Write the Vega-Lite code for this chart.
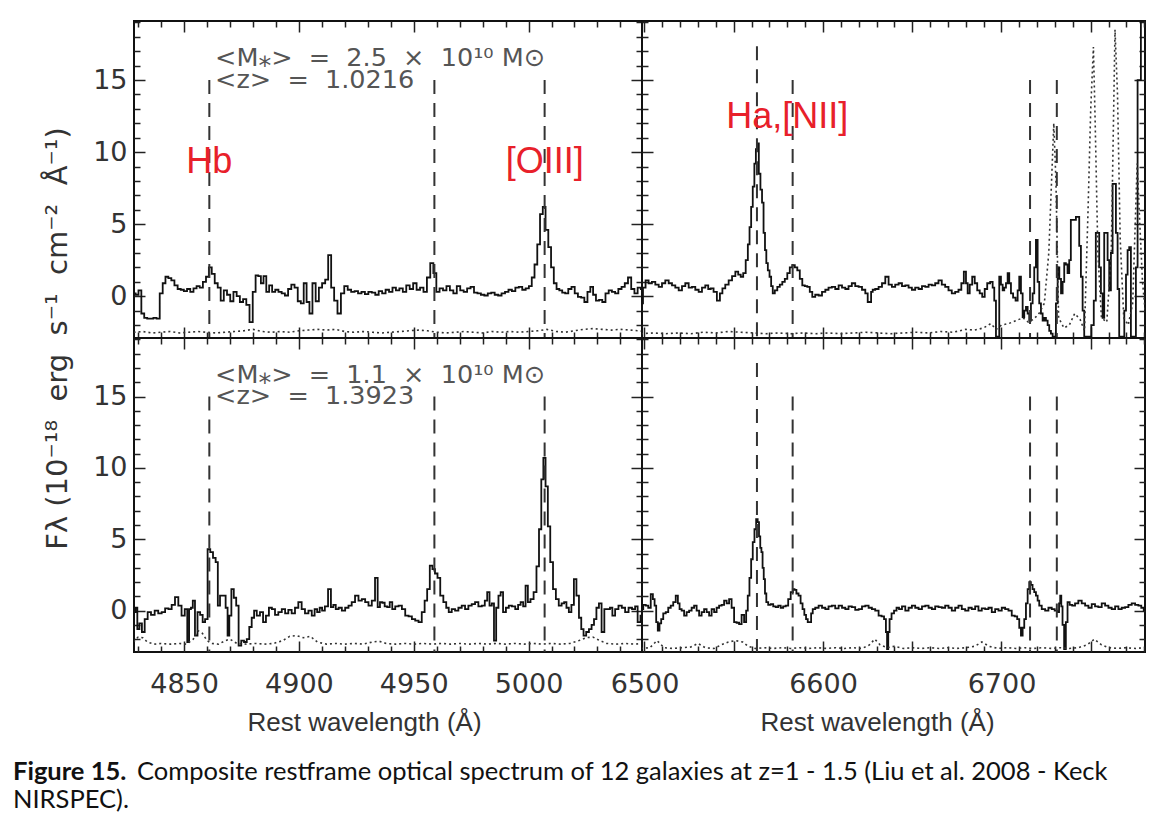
{
  "$schema": "https://vega.github.io/schema/vega-lite/v6.json",
  "background": "white",
  "padding": {"left": 13, "top": 7, "right": 20, "bottom": 5},
  "datasets": {
    "tl": [
      {"w":4828.3,"f":0.2},{"w":4829.5,"f":0.1},{"w":4830.8,"f":0.4},{"w":4832.0,"f":-1.2},{"w":4833.3,"f":-1.5},{"w":4834.6,"f":-1.55},{"w":4836.0,"f":-1.55},{"w":4837.3,"f":-1.5},{"w":4838.7,"f":-1.55},{"w":4840.1,"f":0.2},{"w":4841.3,"f":0.9},{"w":4842.5,"f":1.35},{"w":4843.8,"f":1.25},{"w":4845.1,"f":1.1},{"w":4846.5,"f":0.75},{"w":4847.9,"f":0.5},{"w":4849.2,"f":0.45},{"w":4850.6,"f":0.35},{"w":4852.0,"f":0.5},{"w":4853.4,"f":0.3},{"w":4854.8,"f":0.55},{"w":4856.1,"f":0.7},{"w":4857.5,"f":0.6},{"w":4858.9,"f":1.0},{"w":4860.2,"f":1.35},{"w":4861.4,"f":2.0},{"w":4862.7,"f":1.55},{"w":4864.0,"f":0.9},{"w":4865.3,"f":0.6},{"w":4866.6,"f":-0.3},{"w":4868.0,"f":0.4},{"w":4869.4,"f":0.1},{"w":4870.8,"f":-0.35},{"w":4872.2,"f":0.3},{"w":4873.6,"f":0.0},{"w":4875.0,"f":-0.4},{"w":4876.4,"f":-0.2},{"w":4877.8,"f":-0.6},{"w":4879.2,"f":-1.8},{"w":4880.6,"f":0.3},{"w":4881.7,"f":1.45},{"w":4882.9,"f":1.4},{"w":4884.0,"f":0.9},{"w":4885.2,"f":1.4},{"w":4886.4,"f":0.3},{"w":4887.7,"f":0.75},{"w":4889.0,"f":0.3},{"w":4890.4,"f":0.45},{"w":4891.8,"f":0.3},{"w":4893.2,"f":0.2},{"w":4894.6,"f":0.05},{"w":4896.0,"f":0.5},{"w":4897.4,"f":0.8},{"w":4898.8,"f":0.6},{"w":4900.2,"f":-0.35},{"w":4901.5,"f":-0.5},{"w":4902.7,"f":0.9},{"w":4904.0,"f":-0.4},{"w":4905.2,"f":-1.2},{"w":4906.6,"f":0.9},{"w":4908.0,"f":-0.35},{"w":4909.4,"f":0.6},{"w":4910.8,"f":0.9},{"w":4912.1,"f":1.15},{"w":4913.4,"f":2.85},{"w":4914.7,"f":0.6},{"w":4916.0,"f":-0.3},{"w":4917.6,"f":-1.2},{"w":4919.0,"f":0.2},{"w":4920.5,"f":0.7},{"w":4922.0,"f":0.45},{"w":4923.5,"f":0.3},{"w":4925.0,"f":0.35},{"w":4926.5,"f":0.2},{"w":4928.0,"f":0.3},{"w":4929.5,"f":0.15},{"w":4931.0,"f":0.3},{"w":4932.5,"f":0.25},{"w":4934.0,"f":0.1},{"w":4935.5,"f":0.35},{"w":4937.0,"f":0.2},{"w":4938.5,"f":0.45},{"w":4940.0,"f":0.3},{"w":4941.5,"f":0.6},{"w":4943.0,"f":0.4},{"w":4944.5,"f":0.55},{"w":4946.0,"f":0.3},{"w":4947.5,"f":0.75},{"w":4949.0,"f":0.5},{"w":4950.5,"f":0.9},{"w":4952.0,"f":0.45},{"w":4953.5,"f":0.6},{"w":4955.0,"f":0.3},{"w":4956.5,"f":1.3},{"w":4957.9,"f":2.3},{"w":4959.2,"f":1.6},{"w":4960.5,"f":0.3},{"w":4962.0,"f":0.55},{"w":4963.5,"f":0.4},{"w":4965.0,"f":0.7},{"w":4966.5,"f":0.4},{"w":4968.0,"f":0.2},{"w":4969.5,"f":0.7},{"w":4971.0,"f":0.4},{"w":4972.5,"f":0.3},{"w":4974.0,"f":0.55},{"w":4975.5,"f":0.65},{"w":4977.0,"f":0.25},{"w":4978.5,"f":0.2},{"w":4980.0,"f":0.1},{"w":4981.5,"f":0.05},{"w":4983.0,"f":0.2},{"w":4984.5,"f":0.25},{"w":4986.0,"f":0.1},{"w":4987.5,"f":0.05},{"w":4989.0,"f":0.2},{"w":4990.5,"f":0.3},{"w":4992.0,"f":0.45},{"w":4993.5,"f":0.35},{"w":4995.0,"f":0.6},{"w":4996.5,"f":0.65},{"w":4998.0,"f":0.45},{"w":4999.5,"f":0.55},{"w":5000.8,"f":0.7},{"w":5002.0,"f":1.3},{"w":5003.2,"f":2.2},{"w":5004.4,"f":3.6},{"w":5005.6,"f":5.7},{"w":5006.8,"f":6.2},{"w":5008.0,"f":4.6},{"w":5009.2,"f":3.4},{"w":5010.4,"f":2.0},{"w":5011.6,"f":0.9},{"w":5012.8,"f":0.5},{"w":5014.0,"f":0.4},{"w":5015.3,"f":0.25},{"w":5016.6,"f":0.2},{"w":5018.0,"f":0.5},{"w":5019.4,"f":0.65},{"w":5020.8,"f":0.2},{"w":5022.2,"f":-0.05},{"w":5023.6,"f":-0.1},{"w":5025.0,"f":-0.4},{"w":5026.3,"f":0.3},{"w":5027.5,"f":0.65},{"w":5028.7,"f":0.1},{"w":5030.0,"f":-0.3},{"w":5031.4,"f":-0.25},{"w":5032.8,"f":-0.4},{"w":5034.2,"f":0.2},{"w":5035.6,"f":0.4},{"w":5037.0,"f":0.3},{"w":5038.4,"f":0.2},{"w":5039.8,"f":0.5},{"w":5041.2,"f":0.65},{"w":5042.6,"f":0.9},{"w":5044.0,"f":1.3},{"w":5045.4,"f":0.5},{"w":5046.8,"f":0.2},{"w":5048.2,"f":0.6},{"w":5049.6,"f":0.5}
    ],
    "tl_err": [
      {"w":4828,"f":-2.5},{"w":4832,"f":-2.45},{"w":4836,"f":-2.55},{"w":4840,"f":-2.5},{"w":4844,"f":-2.45},{"w":4848,"f":-2.55},{"w":4852,"f":-2.5},{"w":4856,"f":-2.45},{"w":4860,"f":-2.5},{"w":4864,"f":-2.55},{"w":4868,"f":-2.5},{"w":4872,"f":-2.45},{"w":4876,"f":-2.4},{"w":4880,"f":-2.3},{"w":4884,"f":-2.45},{"w":4888,"f":-2.5},{"w":4892,"f":-2.45},{"w":4896,"f":-2.5},{"w":4900,"f":-2.4},{"w":4904,"f":-2.35},{"w":4908,"f":-2.3},{"w":4912,"f":-2.35},{"w":4916,"f":-2.3},{"w":4920,"f":-2.45},{"w":4924,"f":-2.5},{"w":4928,"f":-2.45},{"w":4932,"f":-2.5},{"w":4936,"f":-2.55},{"w":4940,"f":-2.5},{"w":4944,"f":-2.45},{"w":4948,"f":-2.4},{"w":4952,"f":-2.35},{"w":4956,"f":-2.4},{"w":4960,"f":-2.5},{"w":4964,"f":-2.55},{"w":4968,"f":-2.5},{"w":4972,"f":-2.45},{"w":4976,"f":-2.5},{"w":4980,"f":-2.55},{"w":4984,"f":-2.45},{"w":4988,"f":-2.5},{"w":4992,"f":-2.45},{"w":4996,"f":-2.5},{"w":5000,"f":-2.45},{"w":5004,"f":-2.4},{"w":5008,"f":-2.3},{"w":5012,"f":-2.45},{"w":5016,"f":-2.5},{"w":5020,"f":-2.4},{"w":5024,"f":-2.3},{"w":5028,"f":-2.25},{"w":5032,"f":-2.3},{"w":5036,"f":-2.35},{"w":5040,"f":-2.3},{"w":5044,"f":-2.35},{"w":5048,"f":-2.4},{"w":5050,"f":-2.45}
    ],
    "tr": [
      {"w":6498.5,"f":-0.5},{"w":6499.8,"f":0.6},{"w":6501.4,"f":1.1},{"w":6503.2,"f":0.9},{"w":6505.1,"f":1.0},{"w":6507.0,"f":0.8},{"w":6508.9,"f":0.65},{"w":6510.7,"f":0.9},{"w":6512.6,"f":1.1},{"w":6514.5,"f":0.9},{"w":6516.3,"f":0.75},{"w":6518.2,"f":0.6},{"w":6520.1,"f":0.4},{"w":6521.9,"f":0.7},{"w":6523.8,"f":0.9},{"w":6525.7,"f":0.6},{"w":6527.5,"f":0.65},{"w":6529.4,"f":0.45},{"w":6531.3,"f":0.3},{"w":6533.1,"f":0.6},{"w":6535.0,"f":0.75},{"w":6536.4,"f":0.5},{"w":6537.8,"f":0.55},{"w":6539.6,"f":0.3},{"w":6541.5,"f":-0.3},{"w":6543.0,"f":0.2},{"w":6544.3,"f":0.55},{"w":6546.2,"f":0.8},{"w":6548.1,"f":1.1},{"w":6550.0,"f":1.4},{"w":6551.8,"f":1.7},{"w":6553.2,"f":1.5},{"w":6554.6,"f":1.35},{"w":6556.0,"f":1.6},{"w":6557.4,"f":2.5},{"w":6558.4,"f":3.6},{"w":6559.3,"f":4.8},{"w":6560.2,"f":6.2},{"w":6561.1,"f":7.6},{"w":6562.0,"f":9.2},{"w":6562.8,"f":10.2},{"w":6563.6,"f":10.6},{"w":6564.5,"f":8.5},{"w":6565.4,"f":7.4},{"w":6566.3,"f":6.5},{"w":6567.1,"f":4.4},{"w":6567.9,"f":3.2},{"w":6568.6,"f":2.3},{"w":6569.6,"f":1.8},{"w":6570.5,"f":1.35},{"w":6571.4,"f":0.7},{"w":6572.3,"f":0.2},{"w":6573.7,"f":0.4},{"w":6575.1,"f":0.65},{"w":6576.5,"f":0.8},{"w":6577.9,"f":1.0},{"w":6579.3,"f":1.2},{"w":6580.7,"f":1.6},{"w":6582.1,"f":2.0},{"w":6583.5,"f":2.15},{"w":6584.9,"f":2.0},{"w":6586.3,"f":1.8},{"w":6587.7,"f":1.2},{"w":6589.1,"f":0.75},{"w":6590.5,"f":0.7},{"w":6591.9,"f":0.65},{"w":6593.3,"f":0.3},{"w":6594.7,"f":-0.05},{"w":6596.6,"f":0.1},{"w":6598.5,"f":0.05},{"w":6600.4,"f":0.3},{"w":6602.2,"f":0.45},{"w":6604.0,"f":0.6},{"w":6605.9,"f":0.65},{"w":6607.8,"f":0.5},{"w":6609.7,"f":0.75},{"w":6611.6,"f":0.6},{"w":6613.4,"f":0.5},{"w":6615.2,"f":0.7},{"w":6617.1,"f":0.9},{"w":6619.0,"f":0.7},{"w":6620.9,"f":0.65},{"w":6622.8,"f":0.45},{"w":6624.6,"f":0.2},{"w":6625.5,"f":-0.4},{"w":6626.5,"f":-0.4},{"w":6627.4,"f":0.3},{"w":6628.3,"f":0.45},{"w":6630.2,"f":0.5},{"w":6632.1,"f":0.65},{"w":6634.0,"f":0.9},{"w":6635.8,"f":1.35},{"w":6637.7,"f":0.8},{"w":6639.5,"f":0.65},{"w":6641.4,"f":0.8},{"w":6643.3,"f":0.9},{"w":6645.2,"f":0.7},{"w":6647.0,"f":0.75},{"w":6648.9,"f":0.6},{"w":6650.7,"f":0.45},{"w":6652.6,"f":0.6},{"w":6654.5,"f":0.5},{"w":6656.4,"f":0.7},{"w":6658.2,"f":0.65},{"w":6660.1,"f":0.8},{"w":6661.9,"f":0.75},{"w":6663.8,"f":0.9},{"w":6665.6,"f":1.1},{"w":6667.5,"f":0.8},{"w":6669.4,"f":0.65},{"w":6671.2,"f":0.4},{"w":6673.1,"f":0.2},{"w":6675.0,"f":0.3},{"w":6676.8,"f":0.45},{"w":6678.2,"f":0.9},{"w":6679.6,"f":1.7},{"w":6680.6,"f":0.9},{"w":6681.5,"f":0.2},{"w":6682.9,"f":0.8},{"w":6684.3,"f":1.35},{"w":6685.7,"f":0.9},{"w":6687.1,"f":0.4},{"w":6688.5,"f":0.2},{"w":6689.9,"f":-0.05},{"w":6691.3,"f":0.5},{"w":6692.7,"f":0.9},{"w":6694.6,"f":1.0},{"w":6695.5,"f":0.6},{"w":6696.4,"f":-0.3},{"w":6697.4,"f":-2.8},{"w":6698.3,"f":-2.8},{"w":6699.2,"f":1.35},{"w":6700.2,"f":0.8},{"w":6701.1,"f":0.4},{"w":6702.0,"f":0.6},{"w":6703.0,"f":0.9},{"w":6703.9,"f":1.6},{"w":6704.8,"f":0.9},{"w":6705.8,"f":0.2},{"w":6707.2,"f":-0.1},{"w":6708.6,"f":-0.3},{"w":6709.5,"f":0.4},{"w":6710.4,"f":1.35},{"w":6711.4,"f":0.2},{"w":6712.3,"f":-1.45},{"w":6713.2,"f":-1.0},{"w":6714.2,"f":-0.75},{"w":6715.1,"f":-1.2},{"w":6716.0,"f":-1.7},{"w":6717.0,"f":-0.5},{"w":6717.9,"f":0.2},{"w":6718.8,"f":2.0},{"w":6719.8,"f":3.9},{"w":6720.7,"f":1.0},{"w":6721.6,"f":-0.5},{"w":6722.6,"f":-1.2},{"w":6723.5,"f":-1.7},{"w":6724.4,"f":-1.5},{"w":6725.4,"f":-1.7},{"w":6726.3,"f":-2.0},{"w":6727.2,"f":-2.4},{"w":6728.2,"f":-2.6},{"w":6729.1,"f":-2.8},{"w":6730.0,"f":-2.8},{"w":6731.0,"f":-0.5},{"w":6731.9,"f":2.0},{"w":6732.9,"f":1.2},{"w":6733.8,"f":0.2},{"w":6734.7,"f":1.0},{"w":6735.6,"f":2.3},{"w":6736.5,"f":2.2},{"w":6737.5,"f":1.6},{"w":6738.4,"f":2.5},{"w":6739.3,"f":5.3},{"w":6740.3,"f":5.3},{"w":6741.2,"f":5.3},{"w":6742.2,"f":5.5},{"w":6743.1,"f":5.5},{"w":6744.0,"f":3.5},{"w":6745.0,"f":1.35},{"w":6745.9,"f":-1.0},{"w":6746.8,"f":-2.8},{"w":6748.2,"f":-2.8},{"w":6749.6,"f":-2.8},{"w":6751.0,"f":-2.0},{"w":6752.4,"f":-0.3},{"w":6753.3,"f":4.4},{"w":6754.3,"f":4.4},{"w":6755.2,"f":2.0},{"w":6756.2,"f":0.2},{"w":6757.1,"f":-1.5},{"w":6758.0,"f":4.4},{"w":6759.0,"f":4.4},{"w":6759.9,"f":2.5},{"w":6760.8,"f":0.4},{"w":6761.8,"f":3.0},{"w":6762.7,"f":7.8},{"w":6763.6,"f":7.8},{"w":6764.6,"f":4.4},{"w":6765.5,"f":0.5},{"w":6766.4,"f":-2.8},{"w":6767.4,"f":-2.8},{"w":6768.3,"f":-2.8},{"w":6769.3,"f":-1.0},{"w":6770.2,"f":1.5},{"w":6771.1,"f":3.2},{"w":6772.0,"f":3.4},{"w":6773.0,"f":-2.8},{"w":6773.9,"f":-2.8},{"w":6774.8,"f":-2.8},{"w":6775.8,"f":2.0},{"w":6776.7,"f":15.0},{"w":6777.6,"f":15.0},{"w":6778.6,"f":25},{"w":6779.5,"f":25},{"w":6780.5,"f":25}
    ],
    "tr_err": [
      {"w":6498,"f":-2.6},{"w":6505,"f":-2.55},{"w":6512,"f":-2.6},{"w":6519,"f":-2.55},{"w":6526,"f":-2.6},{"w":6533,"f":-2.5},{"w":6540,"f":-2.55},{"w":6547,"f":-2.45},{"w":6554,"f":-2.5},{"w":6561,"f":-2.55},{"w":6568,"f":-2.6},{"w":6575,"f":-2.55},{"w":6582,"f":-2.6},{"w":6589,"f":-2.55},{"w":6596,"f":-2.6},{"w":6603,"f":-2.55},{"w":6610,"f":-2.6},{"w":6617,"f":-2.55},{"w":6624,"f":-2.5},{"w":6631,"f":-2.55},{"w":6638,"f":-2.6},{"w":6645,"f":-2.55},{"w":6652,"f":-2.5},{"w":6659,"f":-2.55},{"w":6666,"f":-2.45},{"w":6673,"f":-2.5},{"w":6680,"f":-2.3},{"w":6685,"f":-2.35},{"w":6690,"f":-2.2},{"w":6694,"f":-1.9},{"w":6697,"f":-2.3},{"w":6700,"f":-2.0},{"w":6704,"f":-1.9},{"w":6708,"f":-1.7},{"w":6712,"f":-1.5},{"w":6715,"f":-1.8},{"w":6718,"f":-1.6},{"w":6721,"f":-1.2},{"w":6724,"f":-0.5},{"w":6726.5,"f":3.0},{"w":6729.3,"f":12.0},{"w":6730.5,"f":8.0},{"w":6732,"f":-1.5},{"w":6735,"f":-2.2},{"w":6738,"f":-2.0},{"w":6741,"f":-1.2},{"w":6744,"f":-1.6},{"w":6746.5,"f":-2.4},{"w":6748.5,"f":6.0},{"w":6750,"f":13.0},{"w":6751.5,"f":17.3},{"w":6752.5,"f":12.0},{"w":6754,"f":3.0},{"w":6756,"f":-1.5},{"w":6759,"f":-1.8},{"w":6761.5,"f":3.0},{"w":6763.6,"f":18.5},{"w":6765,"f":14.0},{"w":6766.5,"f":4.0},{"w":6768.5,"f":-1.5},{"w":6771,"f":-2.0},{"w":6773.5,"f":-0.5},{"w":6776,"f":9.2},{"w":6777.5,"f":5.0},{"w":6779,"f":1.0},{"w":6780.5,"f":-1.0}
    ],
    "bl": [
      {"w":4828.4,"f":-0.1},{"w":4829.3,"f":0.2},{"w":4830.0,"f":-1.3},{"w":4831.1,"f":-0.9},{"w":4832.2,"f":-1.5},{"w":4833.5,"f":-0.6},{"w":4834.8,"f":-0.1},{"w":4836.4,"f":-0.3},{"w":4838.0,"f":0.0},{"w":4839.5,"f":-0.2},{"w":4841.0,"f":-0.1},{"w":4842.5,"f":0.15},{"w":4843.9,"f":0.1},{"w":4845.3,"f":0.4},{"w":4846.8,"f":0.95},{"w":4848.2,"f":0.35},{"w":4849.6,"f":-0.35},{"w":4851.0,"f":0.1},{"w":4851.8,"f":-2.2},{"w":4852.6,"f":0.1},{"w":4853.4,"f":0.2},{"w":4854.2,"f":0.7},{"w":4855.3,"f":-1.75},{"w":4856.4,"f":-0.1},{"w":4857.6,"f":-0.3},{"w":4858.6,"f":-0.8},{"w":4859.7,"f":-0.6},{"w":4860.8,"f":4.3},{"w":4862.0,"f":4.1},{"w":4863.2,"f":3.7},{"w":4864.3,"f":3.4},{"w":4865.1,"f":0.35},{"w":4866.2,"f":1.05},{"w":4867.6,"f":1.05},{"w":4868.6,"f":0.2},{"w":4869.3,"f":-1.75},{"w":4870.1,"f":-0.35},{"w":4871.1,"f":1.5},{"w":4872.2,"f":0.9},{"w":4873.2,"f":0.35},{"w":4874.3,"f":-2.45},{"w":4875.5,"f":-2.1},{"w":4876.7,"f":-2.2},{"w":4877.9,"f":-2.0},{"w":4878.9,"f":-1.15},{"w":4880.0,"f":-0.5},{"w":4881.0,"f":0.0},{"w":4882.3,"f":-0.35},{"w":4883.8,"f":-0.1},{"w":4885.0,"f":-0.8},{"w":4886.3,"f":-0.35},{"w":4887.6,"f":0.2},{"w":4888.9,"f":0.1},{"w":4890.3,"f":-0.3},{"w":4891.8,"f":-0.1},{"w":4893.3,"f":0.1},{"w":4894.7,"f":-0.2},{"w":4896.1,"f":0.05},{"w":4897.6,"f":-0.2},{"w":4899.0,"f":0.2},{"w":4900.5,"f":0.6},{"w":4901.9,"f":0.1},{"w":4903.4,"f":-0.2},{"w":4904.9,"f":0.0},{"w":4906.3,"f":-0.35},{"w":4907.4,"f":0.1},{"w":4908.5,"f":-0.1},{"w":4909.6,"f":0.2},{"w":4910.6,"f":0.0},{"w":4912.0,"f":0.3},{"w":4913.4,"f":1.5},{"w":4914.5,"f":0.25},{"w":4915.5,"f":0.4},{"w":4916.6,"f":0.1},{"w":4918.0,"f":0.2},{"w":4919.4,"f":0.0},{"w":4920.9,"f":0.2},{"w":4922.3,"f":0.35},{"w":4923.7,"f":0.6},{"w":4925.2,"f":1.05},{"w":4926.7,"f":0.7},{"w":4928.1,"f":0.8},{"w":4929.6,"f":0.6},{"w":4931.0,"f":0.35},{"w":4932.5,"f":0.7},{"w":4933.8,"f":2.3},{"w":4934.8,"f":0.25},{"w":4935.8,"f":0.6},{"w":4936.8,"f":0.55},{"w":4937.9,"f":0.3},{"w":4939.0,"f":0.25},{"w":4940.1,"f":0.6},{"w":4941.2,"f":0.1},{"w":4942.7,"f":0.3},{"w":4944.1,"f":0.35},{"w":4945.6,"f":0.1},{"w":4947.0,"f":-0.35},{"w":4948.5,"f":-0.4},{"w":4949.9,"f":-0.6},{"w":4951.4,"f":-0.7},{"w":4952.8,"f":-0.8},{"w":4954.2,"f":-0.1},{"w":4955.3,"f":0.7},{"w":4956.4,"f":1.5},{"w":4957.6,"f":3.15},{"w":4958.7,"f":2.9},{"w":4959.8,"f":2.6},{"w":4960.9,"f":2.3},{"w":4962.2,"f":1.05},{"w":4963.6,"f":0.6},{"w":4964.7,"f":0.2},{"w":4965.8,"f":-0.1},{"w":4967.3,"f":0.1},{"w":4968.7,"f":0.0},{"w":4970.2,"f":0.2},{"w":4971.6,"f":0.35},{"w":4973.1,"f":0.1},{"w":4974.5,"f":0.35},{"w":4976.0,"f":0.45},{"w":4977.4,"f":0.6},{"w":4978.9,"f":0.3},{"w":4980.4,"f":0.35},{"w":4981.5,"f":0.7},{"w":4982.5,"f":1.3},{"w":4983.5,"f":0.35},{"w":4984.5,"f":0.5},{"w":4985.4,"f":-2.1},{"w":4986.4,"f":0.2},{"w":4987.4,"f":1.05},{"w":4988.3,"f":1.3},{"w":4989.5,"f":-0.1},{"w":4990.8,"f":0.2},{"w":4992.0,"f":0.35},{"w":4993.5,"f":0.3},{"w":4994.9,"f":0.1},{"w":4996.0,"f":0.4},{"w":4997.1,"f":0.6},{"w":4998.2,"f":0.3},{"w":4999.2,"f":1.75},{"w":5000.2,"f":0.6},{"w":5001.5,"f":0.8},{"w":5002.9,"f":1.3},{"w":5004.0,"f":3.1},{"w":5005.1,"f":5.7},{"w":5006.0,"f":9.2},{"w":5006.9,"f":10.7},{"w":5007.9,"f":8.7},{"w":5008.9,"f":5.9},{"w":5010.0,"f":3.4},{"w":5011.3,"f":1.5},{"w":5012.5,"f":0.8},{"w":5013.8,"f":0.35},{"w":5015.0,"f":0.5},{"w":5016.0,"f":0.6},{"w":5017.0,"f":0.2},{"w":5018.1,"f":-0.1},{"w":5019.2,"f":0.4},{"w":5020.3,"f":2.2},{"w":5021.4,"f":1.05},{"w":5022.5,"f":-0.5},{"w":5023.4,"f":-1.3},{"w":5024.5,"f":-1.75},{"w":5025.7,"f":-1.5},{"w":5026.9,"f":-1.3},{"w":5028.0,"f":-1.0},{"w":5029.0,"f":-0.6},{"w":5030.1,"f":0.2},{"w":5031.2,"f":0.5},{"w":5032.4,"f":-1.5},{"w":5033.6,"f":0.1},{"w":5034.9,"f":0.1},{"w":5036.0,"f":0.2},{"w":5037.0,"f":-0.35},{"w":5038.4,"f":0.1},{"w":5039.9,"f":0.35},{"w":5041.3,"f":0.2},{"w":5042.8,"f":-0.1},{"w":5044.3,"f":0.2},{"w":5045.8,"f":0.1},{"w":5047.0,"f":0.3},{"w":5048.0,"f":-0.8},{"w":5049.5,"f":-0.35}
    ],
    "bl_err": [
      {"w":4828,"f":-2.2},{"w":4830,"f":-1.85},{"w":4832,"f":-1.9},{"w":4834,"f":-2.2},{"w":4837,"f":-2.35},{"w":4840,"f":-2.3},{"w":4844,"f":-2.35},{"w":4848,"f":-2.3},{"w":4851,"f":-2.35},{"w":4854,"f":-2.0},{"w":4856,"f":-1.4},{"w":4858,"f":-1.6},{"w":4860,"f":-2.1},{"w":4862,"f":-2.3},{"w":4865,"f":-2.35},{"w":4868,"f":-2.1},{"w":4870,"f":-2.0},{"w":4873,"f":-2.3},{"w":4877,"f":-2.35},{"w":4881,"f":-2.3},{"w":4885,"f":-2.35},{"w":4889,"f":-2.3},{"w":4893,"f":-2.1},{"w":4896,"f":-1.8},{"w":4899,"f":-1.75},{"w":4902,"f":-1.9},{"w":4905,"f":-1.8},{"w":4908,"f":-2.2},{"w":4912,"f":-2.35},{"w":4916,"f":-2.3},{"w":4920,"f":-2.35},{"w":4924,"f":-2.3},{"w":4928,"f":-2.35},{"w":4932,"f":-2.2},{"w":4935,"f":-2.15},{"w":4938,"f":-2.3},{"w":4942,"f":-2.35},{"w":4946,"f":-2.3},{"w":4950,"f":-2.35},{"w":4954,"f":-2.3},{"w":4958,"f":-2.35},{"w":4962,"f":-2.3},{"w":4966,"f":-2.35},{"w":4970,"f":-2.3},{"w":4974,"f":-2.35},{"w":4978,"f":-2.3},{"w":4982,"f":-2.35},{"w":4986,"f":-2.3},{"w":4990,"f":-2.35},{"w":4994,"f":-2.3},{"w":4998,"f":-2.35},{"w":5002,"f":-2.3},{"w":5006,"f":-2.35},{"w":5010,"f":-2.3},{"w":5014,"f":-2.35},{"w":5018,"f":-2.3},{"w":5022,"f":-2.1},{"w":5025,"f":-1.9},{"w":5028,"f":-1.85},{"w":5031,"f":-2.1},{"w":5034,"f":-2.3},{"w":5038,"f":-2.35},{"w":5042,"f":-2.3},{"w":5046,"f":-2.35},{"w":5050,"f":-2.3}
    ],
    "br": [
      {"w":6498.6,"f":0.1},{"w":6500.0,"f":0.4},{"w":6501.4,"f":0.35},{"w":6502.8,"f":0.2},{"w":6504.2,"f":1.15},{"w":6505.2,"f":0.8},{"w":6506.1,"f":0.35},{"w":6507.0,"f":-0.8},{"w":6507.9,"f":-1.4},{"w":6508.9,"f":-0.9},{"w":6509.8,"f":-0.6},{"w":6511.2,"f":-0.2},{"w":6512.6,"f":-0.1},{"w":6514.0,"f":0.2},{"w":6515.4,"f":0.35},{"w":6516.8,"f":0.6},{"w":6518.2,"f":1.05},{"w":6519.2,"f":0.5},{"w":6520.1,"f":0.1},{"w":6521.5,"f":0.0},{"w":6522.9,"f":-0.35},{"w":6524.3,"f":-0.1},{"w":6525.7,"f":0.0},{"w":6527.1,"f":0.2},{"w":6528.5,"f":0.35},{"w":6529.9,"f":0.0},{"w":6531.3,"f":-0.35},{"w":6532.7,"f":-0.1},{"w":6534.1,"f":0.1},{"w":6535.5,"f":-0.1},{"w":6536.9,"f":-0.35},{"w":6538.3,"f":0.1},{"w":6539.7,"f":-0.1},{"w":6541.1,"f":0.2},{"w":6542.5,"f":0.35},{"w":6543.9,"f":0.4},{"w":6545.3,"f":0.7},{"w":6546.7,"f":0.5},{"w":6548.1,"f":0.8},{"w":6549.5,"f":0.2},{"w":6550.9,"f":-0.8},{"w":6552.3,"f":-0.85},{"w":6553.7,"f":-0.95},{"w":6555.1,"f":-0.3},{"w":6556.5,"f":-0.8},{"w":6557.4,"f":0.0},{"w":6558.3,"f":1.05},{"w":6559.3,"f":2.3},{"w":6560.2,"f":3.6},{"w":6561.1,"f":4.8},{"w":6562.1,"f":5.7},{"w":6563.0,"f":6.4},{"w":6563.8,"f":6.2},{"w":6564.5,"f":5.2},{"w":6565.2,"f":4.4},{"w":6565.8,"f":4.1},{"w":6566.5,"f":3.0},{"w":6567.1,"f":2.2},{"w":6567.9,"f":1.2},{"w":6568.6,"f":0.6},{"w":6570.0,"f":0.4},{"w":6571.4,"f":0.45},{"w":6572.8,"f":0.3},{"w":6574.2,"f":0.25},{"w":6575.6,"f":0.35},{"w":6577.0,"f":0.2},{"w":6578.4,"f":0.3},{"w":6579.8,"f":0.35},{"w":6581.2,"f":0.8},{"w":6582.6,"f":1.3},{"w":6583.6,"f":1.5},{"w":6584.5,"f":1.45},{"w":6585.7,"f":1.2},{"w":6586.9,"f":1.05},{"w":6588.0,"f":0.5},{"w":6589.1,"f":0.1},{"w":6590.0,"f":-0.3},{"w":6591.0,"f":-0.6},{"w":6591.9,"f":-0.8},{"w":6592.9,"f":-0.8},{"w":6593.8,"f":-0.2},{"w":6594.7,"f":0.1},{"w":6596.6,"f":0.2},{"w":6598.5,"f":0.35},{"w":6600.4,"f":0.2},{"w":6602.2,"f":0.1},{"w":6604.0,"f":0.3},{"w":6605.9,"f":0.35},{"w":6607.8,"f":0.15},{"w":6609.7,"f":0.35},{"w":6611.6,"f":0.2},{"w":6613.4,"f":0.1},{"w":6615.2,"f":0.3},{"w":6617.1,"f":0.25},{"w":6619.0,"f":0.05},{"w":6620.9,"f":0.1},{"w":6622.8,"f":0.3},{"w":6624.6,"f":0.35},{"w":6626.5,"f":0.2},{"w":6628.3,"f":0.1},{"w":6630.2,"f":0.0},{"w":6632.1,"f":-0.35},{"w":6633.5,"f":-0.4},{"w":6634.9,"f":-0.6},{"w":6635.6,"f":-1.5},{"w":6636.2,"f":-2.7},{"w":6636.9,"f":-1.5},{"w":6637.7,"f":-0.6},{"w":6639.1,"f":-0.2},{"w":6640.5,"f":0.0},{"w":6641.9,"f":0.2},{"w":6643.3,"f":0.1},{"w":6645.2,"f":0.3},{"w":6647.0,"f":0.0},{"w":6648.9,"f":0.2},{"w":6650.7,"f":0.35},{"w":6652.6,"f":0.2},{"w":6654.5,"f":0.1},{"w":6656.4,"f":0.3},{"w":6658.2,"f":0.35},{"w":6660.1,"f":0.2},{"w":6661.9,"f":0.1},{"w":6663.8,"f":0.3},{"w":6665.6,"f":0.25},{"w":6667.5,"f":0.2},{"w":6669.4,"f":0.35},{"w":6671.2,"f":0.2},{"w":6673.1,"f":0.0},{"w":6675.0,"f":0.2},{"w":6676.8,"f":0.35},{"w":6678.7,"f":0.1},{"w":6680.6,"f":0.0},{"w":6682.4,"f":0.2},{"w":6684.3,"f":0.1},{"w":6686.2,"f":0.3},{"w":6688.0,"f":0.0},{"w":6689.9,"f":0.15},{"w":6691.8,"f":0.1},{"w":6693.6,"f":0.2},{"w":6695.5,"f":-0.1},{"w":6697.4,"f":0.1},{"w":6699.2,"f":0.0},{"w":6701.1,"f":0.2},{"w":6703.0,"f":0.1},{"w":6704.8,"f":0.0},{"w":6706.7,"f":-0.35},{"w":6708.1,"f":-0.4},{"w":6709.5,"f":-0.6},{"w":6710.4,"f":-1.2},{"w":6711.4,"f":-1.75},{"w":6712.3,"f":-1.2},{"w":6713.2,"f":-0.6},{"w":6714.2,"f":0.5},{"w":6715.1,"f":1.5},{"w":6716.0,"f":2.0},{"w":6716.9,"f":1.8},{"w":6717.9,"f":1.5},{"w":6718.8,"f":1.3},{"w":6719.8,"f":1.05},{"w":6720.7,"f":0.7},{"w":6721.6,"f":0.35},{"w":6723.5,"f":0.1},{"w":6725.4,"f":0.0},{"w":6727.2,"f":0.2},{"w":6729.1,"f":0.1},{"w":6730.5,"f":0.0},{"w":6731.9,"f":-0.1},{"w":6732.6,"f":0.5},{"w":6733.2,"f":1.05},{"w":6733.8,"f":0.3},{"w":6734.6,"f":-1.0},{"w":6735.6,"f":-2.7},{"w":6736.5,"f":-0.8},{"w":6737.5,"f":0.6},{"w":6738.9,"f":0.4},{"w":6740.3,"f":0.35},{"w":6742.1,"f":0.5},{"w":6744.0,"f":0.7},{"w":6745.9,"f":0.5},{"w":6747.8,"f":0.35},{"w":6749.6,"f":0.2},{"w":6751.5,"f":0.45},{"w":6753.3,"f":0.3},{"w":6755.2,"f":0.25},{"w":6757.1,"f":0.5},{"w":6759.0,"f":0.35},{"w":6760.8,"f":0.2},{"w":6762.7,"f":0.1},{"w":6764.6,"f":0.3},{"w":6766.4,"f":0.1},{"w":6768.3,"f":0.2},{"w":6770.2,"f":0.25},{"w":6772.0,"f":0.4},{"w":6773.9,"f":0.5},{"w":6775.8,"f":0.4},{"w":6777.6,"f":0.35},{"w":6779.0,"f":0.2},{"w":6780.4,"f":0.0}
    ],
    "br_err": [
      {"w":6498,"f":-2.65},{"w":6503,"f":-2.6},{"w":6507,"f":-2.1},{"w":6511,"f":-2.6},{"w":6516,"f":-2.65},{"w":6521,"f":-2.6},{"w":6526,"f":-2.55},{"w":6530,"f":-2.3},{"w":6534,"f":-2.6},{"w":6539,"f":-2.65},{"w":6543,"f":-2.4},{"w":6547,"f":-2.2},{"w":6551,"f":-2.1},{"w":6555,"f":-2.2},{"w":6558,"f":-2.5},{"w":6562,"f":-2.65},{"w":6567,"f":-2.6},{"w":6572,"f":-2.65},{"w":6577,"f":-2.6},{"w":6582,"f":-2.65},{"w":6587,"f":-2.6},{"w":6592,"f":-2.65},{"w":6597,"f":-2.6},{"w":6602,"f":-2.65},{"w":6607,"f":-2.6},{"w":6612,"f":-2.65},{"w":6617,"f":-2.6},{"w":6622,"f":-2.65},{"w":6626,"f":-2.4},{"w":6629,"f":-2.0},{"w":6632,"f":-2.4},{"w":6636,"f":-2.6},{"w":6640,"f":-2.5},{"w":6645,"f":-2.65},{"w":6650,"f":-2.6},{"w":6655,"f":-2.65},{"w":6660,"f":-2.6},{"w":6665,"f":-2.65},{"w":6670,"f":-2.6},{"w":6675,"f":-2.65},{"w":6680,"f":-2.6},{"w":6685,"f":-2.5},{"w":6689,"f":-2.2},{"w":6693,"f":-2.5},{"w":6698,"f":-2.65},{"w":6703,"f":-2.6},{"w":6708,"f":-2.65},{"w":6713,"f":-2.6},{"w":6718,"f":-2.65},{"w":6723,"f":-2.6},{"w":6728,"f":-2.65},{"w":6733,"f":-2.6},{"w":6738,"f":-2.65},{"w":6743,"f":-2.6},{"w":6748,"f":-2.4},{"w":6752,"f":-2.0},{"w":6756,"f":-2.4},{"w":6760,"f":-2.6},{"w":6765,"f":-2.65},{"w":6770,"f":-2.6},{"w":6775,"f":-2.65},{"w":6780,"f":-2.6}
    ],
    "lines_blue": [
      {"w":4861,"top":15},{"w":4959,"top":15},{"w":5007,"top":15}
    ],
    "lines_red": [
      {"w":6563,"top":17.35},{"w":6583,"top":15},{"w":6716,"top":15},{"w":6731,"top":15}
    ]
  },
  "concat": [
    {
      "width": 508, "height": 317,
      "layer": [
        {
          "data": {"name": "tl"},
          "mark": {"type": "line", "interpolate": "step", "clip": true, "color": "#111", "strokeWidth": 1.8},
          "encoding": {
            "x": {"field": "w", "type": "quantitative", "scale": {"domain": [4828.2, 5049.4], "nice": false, "zero": false},
              "axis": {"orient": "bottom", "values": [4830,4840,4850,4860,4870,4880,4890,4900,4910,4920,4930,4940,4950,4960,4970,4980,4990,5000,5010,5020,5030,5040], "labels": false, "title": null,
                "tickSize": {"condition": {"test": "datum.value % 50 === 0", "value": -11}, "value": -6}}},
            "y": {"field": "f", "type": "quantitative", "scale": {"domain": [-2.9, 19.1], "nice": false, "zero": false},
              "axis": {"orient": "left", "values": [-2,-1,0,1,2,3,4,5,6,7,8,9,10,11,12,13,14,15,16,17,18,19], "format": "d",
                "labelExpr": "datum.value % 5 === 0 && datum.value >= 0 ? datum.label : ''",
                "tickSize": {"condition": {"test": "datum.value % 5 === 0", "value": -11}, "value": -6},
                "labelPadding": 18,
                "title": "Fλ\u00a0(10⁻¹⁸\u00a0\u00a0erg\u00a0\u00a0s⁻¹\u00a0\u00a0cm⁻²\u00a0\u00a0Å⁻¹)", "titleFont": "DejaVu Sans", "titleFontSize": 29,
                "titleAngle": 270, "titleX": -77, "titleY": 317, "titleAlign": "center", "titleBaseline": "middle"}}
          }
        },
        {
          "data": {"name": "tl_err"},
          "mark": {"type": "line", "clip": true, "color": "#333", "strokeWidth": 1.6, "strokeDash": [2, 3]},
          "encoding": {
            "x": {"field": "w", "type": "quantitative", "scale": {"domain": [4828.2, 5049.4], "nice": false, "zero": false},
              "axis": {"orient": "top", "values": [4830,4840,4850,4860,4870,4880,4890,4900,4910,4920,4930,4940,4950,4960,4970,4980,4990,5000,5010,5020,5030,5040], "labels": false, "title": null,
                "tickSize": {"condition": {"test": "datum.value % 50 === 0", "value": -11}, "value": -6}}},
            "y": {"field": "f", "type": "quantitative", "scale": {"domain": [-2.9, 19.1], "nice": false, "zero": false},
              "axis": {"orient": "right", "values": [-2,-1,0,1,2,3,4,5,6,7,8,9,10,11,12,13,14,15,16,17,18,19], "labels": false, "title": null,
                "tickSize": {"condition": {"test": "datum.value % 5 === 0", "value": -11}, "value": -6}}}
          }
        },
        {
          "data": {"name": "lines_blue"},
          "mark": {"type": "rule", "clip": true, "color": "#333", "strokeWidth": 2, "strokeDash": [14, 9]},
          "encoding": {
            "x": {"field": "w", "type": "quantitative", "scale": {"domain": [4828.2, 5049.4], "nice": false, "zero": false}, "axis": null},
            "y": {"field": "top", "type": "quantitative", "scale": {"domain": [-2.9, 19.1], "nice": false, "zero": false}, "axis": null},
            "y2": {"datum": -2.9}
          }
        },
        {
          "data": {"values": [{"w": 4861, "f": 8.55, "label": "Hb"}, {"w": 5007, "f": 8.55, "label": "[OIII]"}]},
          "mark": {"type": "text", "font": "Liberation Sans", "fontSize": 36, "color": "#e8202a", "align": "center", "baseline": "alphabetic"},
          "encoding": {
            "x": {"field": "w", "type": "quantitative", "scale": {"domain": [4828.2, 5049.4], "nice": false, "zero": false}, "axis": null},
            "y": {"field": "f", "type": "quantitative", "scale": {"domain": [-2.9, 19.1], "nice": false, "zero": false}, "axis": null},
            "text": {"field": "label"}
          }
        },
        {
          "data": {"values": [{"w": 4863.5, "f": 16.0, "note": "<M⁎>\u00a0\u00a0=\u00a0\u00a02.5\u00a0\u00a0×\u00a0\u00a010¹⁰\u00a0M⊙"}, {"w": 4863.5, "f": 14.45, "note": "<z>\u00a0\u00a0=\u00a0\u00a01.0216"}]},
          "mark": {"type": "text", "font": "DejaVu Sans", "fontSize": 25.5, "color": "#555", "align": "left", "baseline": "alphabetic"},
          "encoding": {
            "x": {"field": "w", "type": "quantitative", "scale": {"domain": [4828.2, 5049.4], "nice": false, "zero": false}, "axis": null},
            "y": {"field": "f", "type": "quantitative", "scale": {"domain": [-2.9, 19.1], "nice": false, "zero": false}, "axis": null},
            "text": {"field": "note"}
          }
        }
      ],
      "resolve": {"axis": {"x": "independent", "y": "independent"}}
    },
    {
      "width": 503, "height": 317,
      "layer": [
        {
          "data": {"name": "tr"},
          "mark": {"type": "line", "interpolate": "step", "clip": true, "color": "#111", "strokeWidth": 1.8},
          "encoding": {
            "x": {"field": "w", "type": "quantitative", "scale": {"domain": [6498.6, 6780.4], "nice": false, "zero": false},
              "axis": {"orient": "bottom", "values": [6500,6510,6520,6530,6540,6550,6560,6570,6580,6590,6600,6610,6620,6630,6640,6650,6660,6670,6680,6690,6700,6710,6720,6730,6740,6750,6760,6770,6780], "labels": false, "title": null,
                "tickSize": {"condition": {"test": "datum.value % 50 === 0", "value": -11}, "value": -6}}},
            "y": {"field": "f", "type": "quantitative", "scale": {"domain": [-2.9, 19.1], "nice": false, "zero": false},
              "axis": {"orient": "left", "values": [-2,-1,0,1,2,3,4,5,6,7,8,9,10,11,12,13,14,15,16,17,18,19], "labels": false, "title": null,
                "tickSize": {"condition": {"test": "datum.value % 5 === 0", "value": -11}, "value": -6}}}
          }
        },
        {
          "data": {"name": "tr_err"},
          "mark": {"type": "line", "clip": true, "color": "#333", "strokeWidth": 1.6, "strokeDash": [2, 3]},
          "encoding": {
            "x": {"field": "w", "type": "quantitative", "scale": {"domain": [6498.6, 6780.4], "nice": false, "zero": false},
              "axis": {"orient": "top", "values": [6500,6510,6520,6530,6540,6550,6560,6570,6580,6590,6600,6610,6620,6630,6640,6650,6660,6670,6680,6690,6700,6710,6720,6730,6740,6750,6760,6770,6780], "labels": false, "title": null,
                "tickSize": {"condition": {"test": "datum.value % 50 === 0", "value": -11}, "value": -6}}},
            "y": {"field": "f", "type": "quantitative", "scale": {"domain": [-2.9, 19.1], "nice": false, "zero": false},
              "axis": {"orient": "right", "values": [-2,-1,0,1,2,3,4,5,6,7,8,9,10,11,12,13,14,15,16,17,18,19], "labels": false, "title": null,
                "tickSize": {"condition": {"test": "datum.value % 5 === 0", "value": -11}, "value": -6}}}
          }
        },
        {
          "data": {"name": "lines_red"},
          "mark": {"type": "rule", "clip": true, "color": "#333", "strokeWidth": 2, "strokeDash": [14, 9]},
          "encoding": {
            "x": {"field": "w", "type": "quantitative", "scale": {"domain": [6498.6, 6780.4], "nice": false, "zero": false}, "axis": null},
            "y": {"field": "top", "type": "quantitative", "scale": {"domain": [-2.9, 19.1], "nice": false, "zero": false}, "axis": null},
            "y2": {"datum": -2.9}
          }
        },
        {
          "data": {"values": [{"w": 6580, "f": 11.66, "label": "Ha,[NII]"}]},
          "mark": {"type": "text", "font": "Liberation Sans", "fontSize": 36, "color": "#e8202a", "align": "center", "baseline": "alphabetic"},
          "encoding": {
            "x": {"field": "w", "type": "quantitative", "scale": {"domain": [6498.6, 6780.4], "nice": false, "zero": false}, "axis": null},
            "y": {"field": "f", "type": "quantitative", "scale": {"domain": [-2.9, 19.1], "nice": false, "zero": false}, "axis": null},
            "text": {"field": "label"}
          }
        }
      ],
      "resolve": {"axis": {"x": "independent", "y": "independent"}}
    },
    {
      "width": 508, "height": 314,
      "layer": [
        {
          "data": {"name": "bl"},
          "mark": {"type": "line", "interpolate": "step", "clip": true, "color": "#111", "strokeWidth": 1.8},
          "encoding": {
            "x": {"field": "w", "type": "quantitative", "scale": {"domain": [4828.2, 5049.4], "nice": false, "zero": false},
              "axis": {"orient": "bottom", "values": [4830,4840,4850,4860,4870,4880,4890,4900,4910,4920,4930,4940,4950,4960,4970,4980,4990,5000,5010,5020,5030,5040], "format": "d",
                "labelExpr": "datum.value % 50 === 0 ? datum.label : ''",
                "tickSize": {"condition": {"test": "datum.value % 50 === 0", "value": -11}, "value": -6},
                "labelPadding": 30, "labelBaseline": "top",
                "title": "Rest wavelength (Å)", "titleX": 230, "titleY": 70, "titleBaseline": "middle", "titleAlign": "center"}},
            "y": {"field": "f", "type": "quantitative", "scale": {"domain": [-2.9, 19.1], "nice": false, "zero": false},
              "axis": {"orient": "left", "values": [-2,-1,0,1,2,3,4,5,6,7,8,9,10,11,12,13,14,15,16,17,18,19], "format": "d",
                "labelExpr": "datum.value % 5 === 0 && datum.value >= 0 ? datum.label : ''",
                "tickSize": {"condition": {"test": "datum.value % 5 === 0", "value": -11}, "value": -6},
                "labelPadding": 18, "title": null}}
          }
        },
        {
          "data": {"name": "bl_err"},
          "mark": {"type": "line", "clip": true, "color": "#333", "strokeWidth": 1.6, "strokeDash": [2, 3]},
          "encoding": {
            "x": {"field": "w", "type": "quantitative", "scale": {"domain": [4828.2, 5049.4], "nice": false, "zero": false},
              "axis": {"orient": "top", "values": [4830,4840,4850,4860,4870,4880,4890,4900,4910,4920,4930,4940,4950,4960,4970,4980,4990,5000,5010,5020,5030,5040], "labels": false, "title": null,
                "tickSize": {"condition": {"test": "datum.value % 50 === 0", "value": -11}, "value": -6}}},
            "y": {"field": "f", "type": "quantitative", "scale": {"domain": [-2.9, 19.1], "nice": false, "zero": false},
              "axis": {"orient": "right", "values": [-2,-1,0,1,2,3,4,5,6,7,8,9,10,11,12,13,14,15,16,17,18,19], "labels": false, "title": null,
                "tickSize": {"condition": {"test": "datum.value % 5 === 0", "value": -11}, "value": -6}}}
          }
        },
        {
          "data": {"name": "lines_blue"},
          "mark": {"type": "rule", "clip": true, "color": "#333", "strokeWidth": 2, "strokeDash": [14, 9]},
          "encoding": {
            "x": {"field": "w", "type": "quantitative", "scale": {"domain": [4828.2, 5049.4], "nice": false, "zero": false}, "axis": null},
            "y": {"field": "top", "type": "quantitative", "scale": {"domain": [-2.9, 19.1], "nice": false, "zero": false}, "axis": null},
            "y2": {"datum": -2.9}
          }
        },
        {
          "data": {"values": [{"w": 4863.5, "f": 15.95, "note": "<M⁎>\u00a0\u00a0=\u00a0\u00a01.1\u00a0\u00a0×\u00a0\u00a010¹⁰\u00a0M⊙"}, {"w": 4863.5, "f": 14.5, "note": "<z>\u00a0\u00a0=\u00a0\u00a01.3923"}]},
          "mark": {"type": "text", "font": "DejaVu Sans", "fontSize": 25.5, "color": "#555", "align": "left", "baseline": "alphabetic"},
          "encoding": {
            "x": {"field": "w", "type": "quantitative", "scale": {"domain": [4828.2, 5049.4], "nice": false, "zero": false}, "axis": null},
            "y": {"field": "f", "type": "quantitative", "scale": {"domain": [-2.9, 19.1], "nice": false, "zero": false}, "axis": null},
            "text": {"field": "note"}
          }
        }
      ],
      "resolve": {"axis": {"x": "independent", "y": "independent"}}
    },
    {
      "width": 503, "height": 314,
      "layer": [
        {
          "data": {"name": "br"},
          "mark": {"type": "line", "interpolate": "step", "clip": true, "color": "#111", "strokeWidth": 1.8},
          "encoding": {
            "x": {"field": "w", "type": "quantitative", "scale": {"domain": [6498.6, 6780.4], "nice": false, "zero": false},
              "axis": {"orient": "bottom", "values": [6500,6510,6520,6530,6540,6550,6560,6570,6580,6590,6600,6610,6620,6630,6640,6650,6660,6670,6680,6690,6700,6710,6720,6730,6740,6750,6760,6770,6780], "format": "d",
                "labelExpr": "datum.value % 100 === 0 ? datum.label : ''",
                "tickSize": {"condition": {"test": "datum.value % 50 === 0", "value": -11}, "value": -6},
                "labelPadding": 30, "labelBaseline": "top",
                "title": "Rest wavelength (Å)", "titleX": 235, "titleY": 70, "titleBaseline": "middle", "titleAlign": "center"}},
            "y": {"field": "f", "type": "quantitative", "scale": {"domain": [-2.9, 19.1], "nice": false, "zero": false},
              "axis": {"orient": "left", "values": [-2,-1,0,1,2,3,4,5,6,7,8,9,10,11,12,13,14,15,16,17,18,19], "labels": false, "title": null,
                "tickSize": {"condition": {"test": "datum.value % 5 === 0", "value": -11}, "value": -6}}}
          }
        },
        {
          "data": {"name": "br_err"},
          "mark": {"type": "line", "clip": true, "color": "#333", "strokeWidth": 1.6, "strokeDash": [2, 3]},
          "encoding": {
            "x": {"field": "w", "type": "quantitative", "scale": {"domain": [6498.6, 6780.4], "nice": false, "zero": false},
              "axis": {"orient": "top", "values": [6500,6510,6520,6530,6540,6550,6560,6570,6580,6590,6600,6610,6620,6630,6640,6650,6660,6670,6680,6690,6700,6710,6720,6730,6740,6750,6760,6770,6780], "labels": false, "title": null,
                "tickSize": {"condition": {"test": "datum.value % 50 === 0", "value": -11}, "value": -6}}},
            "y": {"field": "f", "type": "quantitative", "scale": {"domain": [-2.9, 19.1], "nice": false, "zero": false},
              "axis": {"orient": "right", "values": [-2,-1,0,1,2,3,4,5,6,7,8,9,10,11,12,13,14,15,16,17,18,19], "labels": false, "title": null,
                "tickSize": {"condition": {"test": "datum.value % 5 === 0", "value": -11}, "value": -6}}}
          }
        },
        {
          "data": {"name": "lines_red"},
          "mark": {"type": "rule", "clip": true, "color": "#333", "strokeWidth": 2, "strokeDash": [14, 9]},
          "encoding": {
            "x": {"field": "w", "type": "quantitative", "scale": {"domain": [6498.6, 6780.4], "nice": false, "zero": false}, "axis": null},
            "y": {"field": "top", "type": "quantitative", "scale": {"domain": [-2.9, 19.1], "nice": false, "zero": false}, "axis": null},
            "y2": {"datum": -2.9}
          }
        }
      ],
      "resolve": {"axis": {"x": "independent", "y": "independent"}}
    }
  ],
  "columns": 2,
  "spacing": 0,
  "bounds": "flush",
  "title": {
    "text": "Figure 15.",
    "subtitle": ["\u200b\u00a0\u00a0\u00a0\u00a0\u00a0\u00a0\u00a0\u00a0\u00a0\u00a0\u00a0\u00a0\u00a0\u00a0\u00a0\u00a0\u00a0\u00a0\u00a0Composite restframe optical spectrum of 12 galaxies at z=1 - 1.5 (Liu et al. 2008 - Keck", "NIRSPEC)."],
    "orient": "bottom",
    "anchor": "start",
    "frame": "group",
    "dx": -121,
    "offset": 24,
    "font": "Lato",
    "fontSize": 25.5,
    "fontWeight": "bold",
    "color": "#111",
    "subtitleFont": "Lato",
    "subtitleFontSize": 25.5,
    "subtitleFontWeight": "normal",
    "subtitleColor": "#111",
    "subtitleLineHeight": 28,
    "subtitlePadding": -25.5
  },
  "config": {
    "view": {"stroke": "#111", "strokeWidth": 2},
    "axis": {
      "domain": false, "grid": false,
      "tickColor": "#222", "tickWidth": 1.5,
      "labelFont": "DejaVu Sans", "labelFontSize": 27, "labelColor": "#333",
      "labelFlush": false, "labelOverlap": false,
      "titleFont": "Liberation Sans", "titleFontSize": 26, "titleFontWeight": "normal", "titleColor": "#333"
    }
  }
}
